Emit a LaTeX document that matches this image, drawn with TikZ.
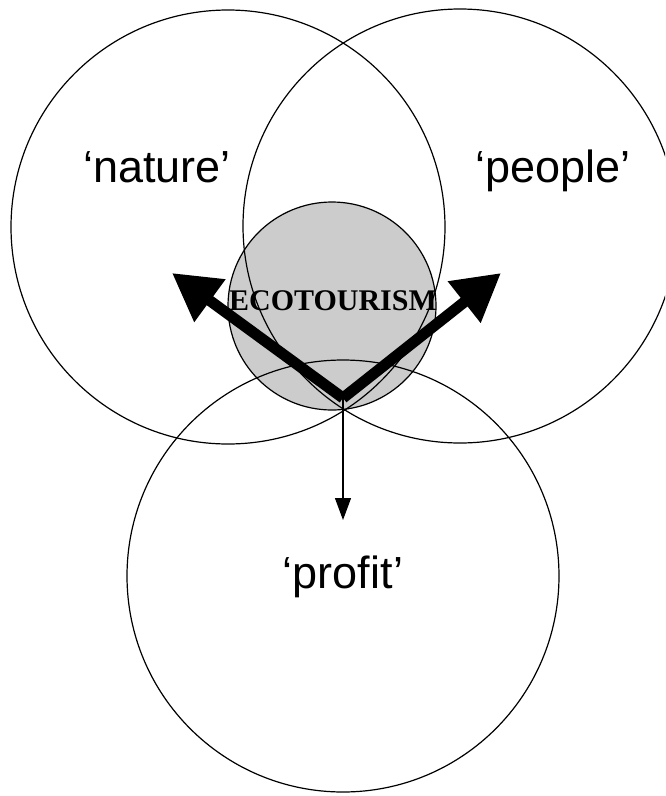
\documentclass[tikz,border=0pt]{standalone}
\usepackage{fontspec}
\setmainfont{Liberation Sans}
\newfontfamily\timesfont{Liberation Serif}
\usetikzlibrary{arrows.meta}
\begin{document}
\begin{tikzpicture}[x=1pt,y=-1pt,
  ring/.style={circle,draw=black,line width=1.2pt,inner sep=0pt,minimum size=#1},
  lbl/.style={font=\fontsize{45}{50}\selectfont,anchor=base,inner sep=0pt},
  bigarrow/.style={line width=11pt,-{Triangle[length=47pt,width=50pt]}},
  smallarrow/.style={line width=1.2pt,-{Triangle[length=22pt,width=16pt]}}]
\useasboundingbox (0,0) rectangle (665,796);
\clip (0,0) rectangle (665,796);
\fill[fill={rgb,255:red,204;green,204;blue,204}] (332,306) circle (104pt);
\node[ring=434pt] (nature) at (228,227) {};
\node[ring=434pt] (people) at (460,226) {};
\node[ring=432pt] (profit) at (343,576) {};
\node[ring=208pt] (eco) at (332,306) {};
\node[lbl] (tn) at (157,182) {‘nature’};
\node[lbl] (tp) at (553,182) {‘people’};
\node[lbl] (tf) at (343,588) {‘profit’};
\node[font=\timesfont\bfseries\fontsize{30}{34}\selectfont,anchor=base,inner sep=0pt] (te) at (333,310) {ECOTOURISM};
\coordinate (o) at (343,398);
\coordinate (tl) at (172,273);
\coordinate (tr) at (501,273);
\coordinate (td) at (343,520);
\draw[bigarrow] (o) -- (tl);
\draw[bigarrow] (o) -- (tr);
\draw[smallarrow] (o) -- (td);
\end{tikzpicture}
\end{document}
